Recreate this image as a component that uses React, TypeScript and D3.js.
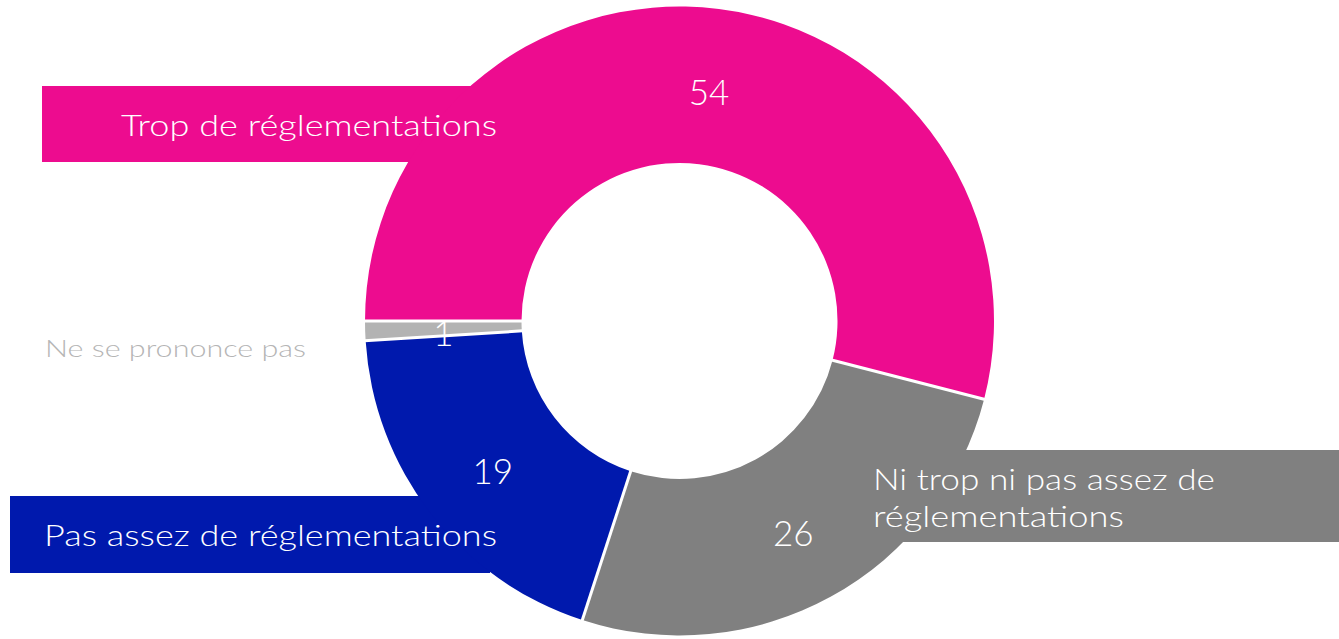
import React from "react";
import * as d3 from "d3";

const categories = ["Trop de réglementations", "Ni trop ni pas assez de réglementations", "Pas assez de réglementations", "Ne se prononce pas"];
const values = [54, 26, 19, 1];
const colors = ["#ED0C8F", "#808080", "#0019AD", "#B3B3B3"];

const W = 1339;
const H = 639;
const CX = 679.5;
const CY = 321;
const R_OUT = 314.5;
const R_IN = 158;
const FONT = "'Lato', 'Open Sans', sans-serif";

export default function App() {
  const pie = d3
    .pie<number>()
    .sort(null)
    .startAngle(-Math.PI / 2)
    .endAngle((3 * Math.PI) / 2)
    .value((d) => d);
  const arcs = pie(values);
  const arcGen = d3.arc<d3.PieArcDatum<number>>().innerRadius(R_IN).outerRadius(R_OUT);

  return (
    <svg width={W} height={H} style={{ position: "absolute", left: 0, top: 0, background: "#fff" }}>
      {/* label boxes behind donut */}
      <rect x={42} y={86} width={450} height={76} fill={colors[0]} />
      <rect x={10} y={496} width={480} height={77} fill={colors[2]} />
      <rect x={840} y={450} width={W - 840} height={92} fill={colors[1]} />

      <g transform={`translate(${CX},${CY})`}>
        {arcs.map((a, i) => (
          <path key={i} d={arcGen(a) || ""} fill={colors[i]} />
        ))}
        {arcs.map((a, i) => {
          const ang = a.startAngle;
          const s = Math.sin(ang);
          const c = -Math.cos(ang);
          return (
            <line
              key={"s" + i}
              x1={s * (R_IN - 1)}
              y1={c * (R_IN - 1)}
              x2={s * (R_OUT + 1)}
              y2={c * (R_OUT + 1)}
              stroke="#fff"
              strokeWidth={3}
            />
          );
        })}
        {arcs.map((a, i) => {
          const [x, y] = arcGen.centroid(a);
          return (
            <text
              key={"v" + i}
              x={x}
              y={y + 4}
              textAnchor="middle"
              dominantBaseline="central"
              fill="#fff"
              fontFamily={FONT}
              fontWeight={300}
              fontSize={35}
            >
              {values[i]}
            </text>
          );
        })}
      </g>

      {/* category labels */}
      <text x={121} y={136} fill="#fff" fontFamily={FONT} fontWeight={300} fontSize={30} textLength={376} lengthAdjust="spacingAndGlyphs">
        {categories[0]}
      </text>
      <text x={44} y={546} fill="#fff" fontFamily={FONT} fontWeight={300} fontSize={30} textLength={453} lengthAdjust="spacingAndGlyphs">
        {categories[2]}
      </text>
      <text x={873} y={490} fill="#fff" fontFamily={FONT} fontWeight={300} fontSize={30} textLength={342} lengthAdjust="spacingAndGlyphs">
        Ni trop ni pas assez de
      </text>
      <text x={873} y={527} fill="#fff" fontFamily={FONT} fontWeight={300} fontSize={30} textLength={251} lengthAdjust="spacingAndGlyphs">
        réglementations
      </text>
      <text x={45} y={357} fill="#B5B5B5" fontFamily={FONT} fontWeight={300} fontSize={24} textLength={261} lengthAdjust="spacingAndGlyphs">
        {categories[3]}
      </text>
    </svg>
  );
}
